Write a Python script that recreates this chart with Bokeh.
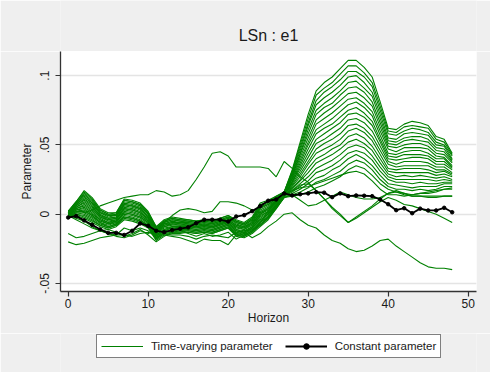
from bokeh.plotting import figure
from bokeh.layouts import column
from bokeh.models import Range1d, FixedTicker, Legend, LegendItem, Label
from bokeh.embed import file_html
from bokeh.resources import INLINE

# ---------------- data ----------------
HORIZON = list(range(49))
X_TICKS = [0, 10, 20, 30, 40, 50]
Y_TICKS = [-0.05, 0, 0.05, 0.1]
Y_TICK_LABELS = {-0.05: "-.05", 0: "0", 0.05: ".05", 0.1: ".1"}

UNIT = 0.001  # the green series below are written in thousandths

# Dense bundle of time-varying responses: at each horizon, the 21 bundle
# lines from the lowest to the highest (thousandths).
FAN_BY_HORIZON = [
    [-3, -3, -2, -2, -2, -2, -1, -1, -1, -1, 0, 0, 0, 0, 1, 1, 1, 1, 2, 2, 2],
    [-1, 0, 0, 1, 1, 2, 2, 3, 3, 4, 4, 5, 5, 6, 6, 7, 7, 8, 8, 9, 9],
    [-3, -2, -1, 0, 1, 2, 3, 4, 5, 6, 7, 8, 9, 10, 11, 12, 13, 14, 15, 16, 17],
    [-6, -5, -4, -3, -2, -1, -1, 0, 1, 2, 3, 4, 5, 6, 7, 8, 8, 9, 10, 11, 12],
    [-9, -8, -8, -7, -6, -6, -5, -4, -4, -3, -2, -2, -1, -1, 0, 1, 1, 2, 3, 3, 4],
    [-11, -10, -10, -9, -9, -8, -7, -7, -6, -6, -5, -4, -4, -3, -3, -2, -1, -1, 0, 0, 1],
    [-9, -8, -8, -7, -7, -6, -6, -5, -5, -4, -4, -3, -3, -2, -2, -1, -1, 0, 0, 1, 1],
    [-4, -3, -2, -2, -1, 0, 1, 1, 2, 3, 4, 4, 5, 6, 7, 7, 8, 9, 10, 10, 11],
    [-5, -4, -3, -3, -2, -1, 0, 0, 1, 2, 3, 3, 4, 5, 6, 6, 7, 8, 9, 9, 10],
    [-7, -6, -5, -5, -4, -3, -2, -2, -1, 0, 1, 1, 2, 3, 4, 4, 5, 6, 7, 7, 8],
    [-10, -9, -9, -8, -8, -7, -6, -6, -5, -5, -4, -3, -3, -2, -2, -1, 0, 0, 1, 1, 2],
    [-19, -18, -18, -17, -17, -16, -16, -15, -15, -14, -14, -13, -13, -12, -12, -11, -11, -10, -10, -9, -9],
    [-15, -14, -14, -13, -13, -12, -12, -11, -11, -10, -9, -9, -8, -8, -7, -7, -6, -6, -5, -5, -4],
    [-14, -13, -13, -12, -12, -11, -10, -10, -9, -9, -8, -7, -7, -6, -6, -5, -4, -4, -3, -3, -2],
    [-14, -13, -13, -12, -12, -11, -11, -10, -10, -9, -8, -8, -7, -7, -6, -6, -5, -5, -4, -4, -3],
    [-13, -13, -12, -12, -11, -11, -10, -10, -9, -9, -8, -8, -8, -7, -7, -6, -6, -5, -5, -4, -4],
    [-14, -14, -13, -13, -12, -12, -11, -11, -10, -10, -9, -9, -9, -8, -8, -7, -7, -6, -6, -5, -5],
    [-13, -13, -12, -12, -11, -11, -10, -10, -9, -9, -8, -8, -8, -7, -7, -6, -6, -5, -5, -4, -4],
    [-14, -14, -13, -13, -12, -12, -11, -11, -10, -10, -9, -9, -9, -8, -8, -7, -7, -6, -6, -5, -5],
    [-12, -12, -11, -11, -10, -10, -9, -9, -8, -8, -7, -7, -7, -6, -6, -5, -5, -4, -4, -3, -3],
    [-10, -10, -9, -9, -8, -8, -7, -7, -6, -6, -5, -5, -5, -4, -4, -3, -3, -2, -2, -1, -1],
    [-16, -15, -15, -14, -14, -13, -12, -12, -11, -11, -10, -9, -9, -8, -8, -7, -6, -6, -5, -5, -4],
    [-17, -16, -16, -15, -15, -14, -14, -13, -13, -12, -11, -11, -10, -10, -9, -9, -8, -8, -7, -7, -6],
    [-14, -13, -13, -12, -12, -11, -10, -10, -9, -9, -8, -7, -7, -6, -6, -5, -4, -4, -3, -3, -2],
    [-9, -8, -7, -6, -6, -5, -4, -3, -2, -1, 0, 0, 1, 2, 3, 4, 5, 5, 6, 7, 8],
    [-4, -3, -3, -2, -1, 0, 0, 1, 2, 2, 3, 4, 4, 5, 6, 7, 7, 8, 9, 9, 10],
    [4, 4, 5, 5, 6, 6, 7, 7, 8, 8, 9, 9, 9, 10, 10, 11, 11, 12, 12, 13, 13],
    [12, 12, 12, 13, 13, 13, 13, 13, 14, 14, 14, 14, 14, 15, 15, 15, 15, 15, 16, 16, 16],
    [13, 14, 15, 16, 17, 18, 19, 20, 21, 22, 23, 23, 24, 25, 26, 27, 28, 29, 30, 31, 32],
    [14, 16, 18, 20, 22, 24, 25, 27, 29, 31, 33, 35, 37, 39, 41, 43, 44, 46, 48, 50, 52],
    [16, 19, 22, 24, 27, 30, 33, 36, 38, 41, 44, 47, 50, 52, 55, 58, 61, 64, 66, 69, 72],
    [19, 23, 26, 30, 33, 37, 40, 44, 47, 51, 54, 58, 61, 65, 68, 72, 75, 79, 82, 86, 89],
    [21, 25, 28, 32, 36, 40, 43, 47, 51, 54, 58, 62, 65, 69, 73, 77, 80, 84, 88, 91, 95],
    [24, 28, 32, 35, 39, 43, 47, 50, 54, 58, 62, 65, 69, 73, 77, 80, 84, 88, 92, 95, 99],
    [27, 31, 35, 39, 43, 47, 50, 54, 58, 62, 66, 70, 74, 78, 82, 86, 89, 93, 97, 101, 105],
    [32, 36, 40, 44, 48, 52, 56, 60, 64, 68, 72, 75, 79, 83, 87, 91, 95, 99, 103, 107, 111],
    [35, 39, 43, 46, 50, 54, 58, 62, 65, 69, 73, 77, 81, 84, 88, 92, 96, 100, 103, 107, 111],
    [33, 37, 40, 44, 48, 51, 55, 59, 62, 66, 70, 73, 77, 80, 84, 88, 91, 95, 99, 102, 106],
    [28, 32, 35, 39, 42, 46, 49, 53, 56, 60, 64, 67, 71, 74, 78, 81, 85, 88, 92, 95, 99],
    [22, 25, 28, 31, 34, 37, 40, 43, 46, 49, 52, 54, 57, 60, 63, 66, 69, 72, 75, 78, 81],
    [18, 20, 22, 25, 27, 29, 31, 33, 36, 38, 40, 42, 44, 47, 49, 51, 53, 55, 58, 60, 62],
    [16, 18, 21, 23, 25, 27, 30, 32, 34, 36, 39, 41, 43, 45, 48, 50, 52, 54, 57, 59, 61],
    [15, 18, 20, 23, 25, 28, 30, 33, 35, 38, 40, 43, 45, 48, 50, 53, 55, 58, 60, 63, 65],
    [14, 17, 19, 22, 25, 27, 30, 33, 35, 38, 41, 43, 46, 48, 51, 54, 56, 59, 62, 64, 67],
    [15, 18, 20, 23, 25, 28, 30, 33, 35, 38, 41, 43, 46, 48, 51, 53, 56, 58, 61, 63, 66],
    [15, 17, 20, 22, 25, 27, 30, 32, 35, 37, 40, 42, 44, 47, 49, 52, 54, 57, 59, 62, 64],
    [16, 18, 20, 22, 24, 26, 28, 30, 32, 34, 36, 38, 40, 42, 44, 46, 48, 50, 52, 54, 56],
    [18, 20, 22, 23, 25, 27, 29, 31, 32, 34, 36, 38, 40, 41, 43, 45, 47, 49, 50, 52, 54],
    [19, 20, 22, 23, 24, 25, 27, 28, 29, 30, 32, 33, 34, 35, 37, 38, 39, 40, 42, 43, 44],
]

# Time-varying responses that leave the bundle (thousandths)
LINE_A = [2, 4, 1, 3, 6, 8, 10, 12, 13, 14, 14, 17, 16, 13, 14, 17, 25, 34, 44, 45,
          42, 34, 34, 34, 34, 33, 27, 38, 33, 27, 23, 17, 11, 5, 0, -6, -2, 2, 6, 11,
          15, 16, 14, 13, 13, 12, 12, 13, 13]
LINE_B = [-20, -22, -21, -19, -17, -16, -15, -15, -16, -14, -13, -14, -15, -16, -17, -19, -21, -18, -19, -19,
          -22, -15, -13, -17, -14, -9, -5, 0, 1, -4, -8, -10, -15, -19, -21, -25, -27, -26, -23, -19,
          -18, -23, -27, -31, -35, -38, -39, -39, -40]
LINE_C = [-1, -4, -7, -10, -12, -14, -16, -17, -15, -12, -14, -12, -6, -1, 3, 4, 3, 1, 2, 9,
          9, 8, 6, 3, 1, 4, 9, 14, 17, 19, 20, 22, 24, 26, 28, 30, 31, 29, 24, 18,
          14, 14, 13, 14, 15, 16, 17, 18, 18]
LINE_D = [-14, -17, -16, -14, -12, -11, -13, -16, -14, -11, -15, -20, -16, -13, -12, -14, -16, -14, -16, -15,
          -13, -18, -15, -12, -6, 2, 10, 15, 14, 10, 6, 7, 10, 13, 16, 14, 12, 11, 11, 12,
          15, 17, 15, 13, 13, 13, 13, 13, 13]
LINE_E = [0, -3, -5, -9, -12, -14, -15, -10, -12, -10, -12, -17, -14, -15, -15, -16, -18, -16, -15, -16,
          -17, -13, -12, -11, -8, -2, 6, 14, 17, 21, 22, 17, 11, 4, -1, -6, -3, 1, 5, 9,
          12, 10, 7, 6, 4, 2, 0, -3, -6]

# Constant-parameter response (black line with dots)
CONSTANT = [-0.0024, -0.0014, -0.0045, -0.0077, -0.011, -0.0135, -0.0135, -0.015, -0.012, -0.0067,
            -0.0084, -0.012, -0.013, -0.0115, -0.0105, -0.0095, -0.0065, -0.004, -0.004, -0.004,
            -0.0053, -0.0017, -0.0007, 0.0022, 0.0058, 0.0097, 0.0106, 0.015, 0.0135, 0.0144,
            0.015, 0.0159, 0.0155, 0.0123, 0.015, 0.013, 0.0135, 0.0133, 0.013, 0.0106,
            0.0072, 0.0029, 0.0043, 0.0007, 0.004, 0.0027, 0.0027, 0.0046, 0.0014]

TITLE = "LSn : e1"
X_LABEL = "Horizon"
Y_LABEL = "Parameter"
LEGEND_LABELS = ["Time-varying parameter", "Constant parameter"]

# ---------------- styling ----------------
FONT = "Liberation Sans"
GREEN = "#008000"
TEXT = "#1a1a1a"
BG = "#efefef"


def strip(height):
    """A grey, axis-less band that sits above or below the chart."""
    f = figure(width=490, height=height, output_backend="svg", toolbar_location=None,
               x_range=Range1d(-100, -99), y_range=Range1d(-100, -99),
               x_axis_type=None, y_axis_type=None, min_border=0)
    f.background_fill_color = BG
    f.border_fill_color = BG
    f.outline_line_color = None
    f.grid.visible = False
    return f


# ---- title band ----
top = strip(51)
top.add_layout(Label(x=208, y=16, x_units="screen", y_units="screen", text=TITLE,
                     text_align="center", text_baseline="middle", text_font=FONT,
                     text_font_size="16px", text_color=TEXT))

# ---- chart ----
p = figure(frame_width=416, frame_height=240, output_backend="svg", toolbar_location=None,
           x_range=Range1d(-0.96, 51.04), y_range=Range1d(-0.0558, 0.1174),
           min_border_left=60, min_border_right=14, min_border_top=0, min_border_bottom=42)
p.background_fill_color = "white"
p.border_fill_color = BG
p.outline_line_color = None

fan_lines = [list(col) for col in zip(*FAN_BY_HORIZON)]
fan_ys = [[v * UNIT for v in line] for line in fan_lines]
p.multi_line(xs=[HORIZON] * len(fan_ys), ys=fan_ys, line_color=GREEN, line_width=1.1)

extra = [LINE_A, LINE_B, LINE_C, LINE_D, LINE_E]
extra_ys = [[v * UNIT for v in line] for line in extra]
p.multi_line(xs=[HORIZON] * len(extra_ys), ys=extra_ys, line_color=GREEN, line_width=1.1)

p.line(HORIZON, CONSTANT, line_color="black", line_width=1.8)
p.scatter(HORIZON, CONSTANT, marker="circle", size=3.5, fill_color="black", line_color="black")

p.xaxis.ticker = FixedTicker(ticks=X_TICKS)
p.yaxis.ticker = FixedTicker(ticks=Y_TICKS)
p.yaxis.major_label_overrides = Y_TICK_LABELS
p.yaxis.major_label_orientation = "vertical"
p.xaxis.axis_label = X_LABEL
p.yaxis.axis_label = Y_LABEL
for ax in (p.xaxis[0], p.yaxis[0]):
    ax.axis_line_color = "#333333"
    ax.axis_line_width = 1.3
    ax.major_tick_line_color = "#333333"
    ax.major_tick_line_width = 1.2
    ax.major_tick_out = 5
    ax.major_tick_in = 0
    ax.minor_tick_line_color = None
    ax.major_label_text_font = FONT
    ax.major_label_text_font_size = "12px"
    ax.major_label_text_color = TEXT
    ax.axis_label_text_font = FONT
    ax.axis_label_text_font_size = "12px"
    ax.axis_label_text_font_style = "normal"
    ax.axis_label_text_color = TEXT
p.xaxis.major_label_standoff = 2
p.xaxis.axis_label_standoff = 0
p.yaxis.major_label_standoff = 6
p.yaxis.axis_label_standoff = 4

p.xgrid.visible = False
p.ygrid.grid_line_color = "#e4e4e4"
p.ygrid.grid_line_width = 1.3

# ---- legend band (its keys reuse the chart's series, kept out of view) ----
leg = strip(39)
green_key = leg.line(HORIZON, extra_ys[0], line_color=GREEN, line_width=1.1)
black_key = leg.line(HORIZON, CONSTANT, line_color="black", line_width=1.8)
black_dot = leg.scatter(HORIZON, CONSTANT, marker="circle", size=4, fill_color="black", line_color="black")

legend = Legend(items=[LegendItem(label=LEGEND_LABELS[0], renderers=[green_key]),
                       LegendItem(label=LEGEND_LABELS[1], renderers=[black_key, black_dot])],
                orientation="horizontal", location=(36, 14))
legend.border_line_color = "black"
legend.border_line_width = 1
legend.background_fill_color = "white"
legend.background_fill_alpha = 1
legend.padding = 4
legend.margin = 0
legend.spacing = 12
legend.glyph_width = 42
legend.glyph_height = 14
legend.label_standoff = 8
legend.label_height = 14
legend.label_text_font = FONT
legend.label_text_font_size = "11.5px"
legend.label_text_color = TEXT
leg.add_layout(legend)

layout = column(top, p, leg, spacing=0)
open("out.html", "w").write(file_html(layout, INLINE))
